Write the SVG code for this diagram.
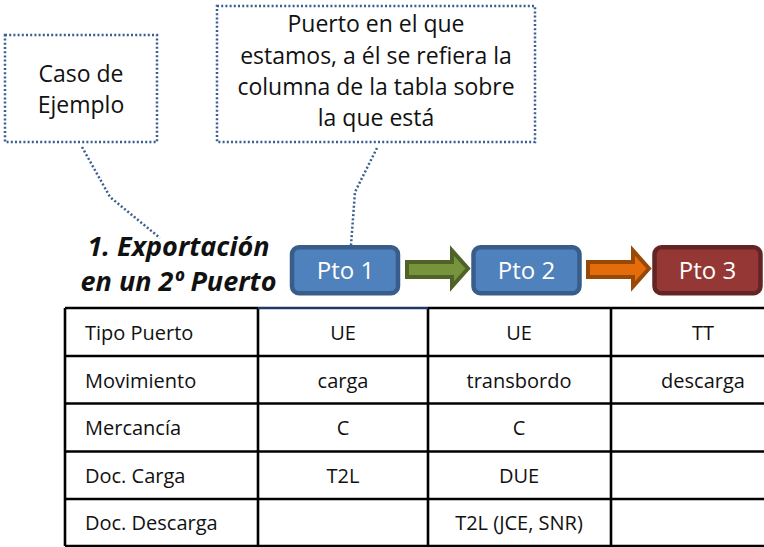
<svg xmlns="http://www.w3.org/2000/svg" width="764" height="547" viewBox="0 0 764 547">
<style>
.callout{fill:#fff;stroke:#3A5F8F;stroke-width:2.5;stroke-dasharray:2 2.2}
.lead{fill:none;stroke:#3A5F8F;stroke-width:2.5;stroke-dasharray:2 2.2}
.ct{font-family:"Open Sans",Lato,sans-serif;font-size:23px;fill:#111;text-anchor:middle}
.title{font-family:"Open Sans",Lato,sans-serif;font-size:27px;font-weight:bold;font-style:italic;fill:#111;text-anchor:middle}
.pt{font-family:"Open Sans",Lato,sans-serif;font-size:24px;fill:#fff;text-anchor:middle}
.box{stroke-width:4.5}
.tl{stroke:#000;stroke-width:2.6;fill:none}
.tt{font-family:"Open Sans",Lato,sans-serif;font-size:20px;fill:#111}
.c{text-anchor:middle}
</style>
<rect width="764" height="547" fill="#fff"/>
<g id="connectors">
<polyline class="lead" points="82,147 110,197 160,238"/>
<polyline class="lead" points="377,148 355,192 351,245"/>
<path d="M407,262 H452 V250.5 L468,268.5 L452,286.5 V277 H407 Z" fill="#77933C" stroke="#4F6228" stroke-width="4"/>
<path d="M588,262 H633 V250.5 L649,268.5 L633,286.5 V277 H588 Z" fill="#E46C0A" stroke="#984807" stroke-width="4"/>
</g>
<g id="callout1">
<rect class="callout" x="5" y="35" width="152" height="107"/>
<text class="ct" x="81" y="82">Caso de</text>
<text class="ct" x="81" y="113">Ejemplo</text>
</g>
<g id="callout2">
<rect class="callout" x="217" y="6" width="318" height="136"/>
<text class="ct" x="376" y="32">Puerto en el que</text>
<text class="ct" x="376" y="63.5">estamos, a él se refiera la</text>
<text class="ct" x="376" y="95">columna de la tabla sobre</text>
<text class="ct" x="376" y="126">la que está</text>
</g>
<g id="title">
<text class="title" x="178.5" y="256">1. Exportación</text>
<text class="title" x="178.5" y="291">en un 2º Puerto</text>
</g>
<g id="pto1">
<rect class="box" x="292" y="247.3" width="106" height="46" rx="7" fill="#4F81BD" stroke="#385D8A"/>
<text class="pt" x="345.5" y="279">Pto 1</text>
</g>
<g id="pto2">
<rect class="box" x="473.5" y="247.3" width="106" height="46" rx="7" fill="#4F81BD" stroke="#385D8A"/>
<text class="pt" x="526.5" y="279">Pto 2</text>
</g>
<g id="pto3">
<rect class="box" x="654.5" y="247.3" width="106" height="46" rx="7" fill="#953735" stroke="#632523"/>
<text class="pt" x="707.5" y="279">Pto 3</text>
</g>
<g id="table">
<path class="tl" d="M65,308 H258 M428,308 H800 M65,308 V546 M258,308 V546 M428,308 V546 M611,308 V546 M65,356 H800 M65,403.5 H800 M65,451.5 H800 M65,499 H800 M65,546 H800"/>
<path d="M258,308 H428" stroke="#1F3864" stroke-width="2.6"/>
<text class="tt" x="85" y="340">Tipo Puerto</text>
<text class="tt c" x="343" y="340">UE</text>
<text class="tt c" x="519" y="340">UE</text>
<text class="tt c" x="703" y="340">TT</text>
<text class="tt" x="85" y="387.5">Movimiento</text>
<text class="tt c" x="343" y="387.5">carga</text>
<text class="tt c" x="519" y="387.5">transbordo</text>
<text class="tt c" x="703" y="387.5">descarga</text>
<text class="tt" x="85" y="435">Mercancía</text>
<text class="tt c" x="343" y="435">C</text>
<text class="tt c" x="519" y="435">C</text>
<text class="tt" x="85" y="482.5">Doc. Carga</text>
<text class="tt c" x="343" y="482.5">T2L</text>
<text class="tt c" x="519" y="482.5">DUE</text>
<text class="tt" x="85" y="529.5">Doc. Descarga</text>
<text class="tt c" x="519" y="529.5">T2L (JCE, SNR)</text>
</g>
</svg>
